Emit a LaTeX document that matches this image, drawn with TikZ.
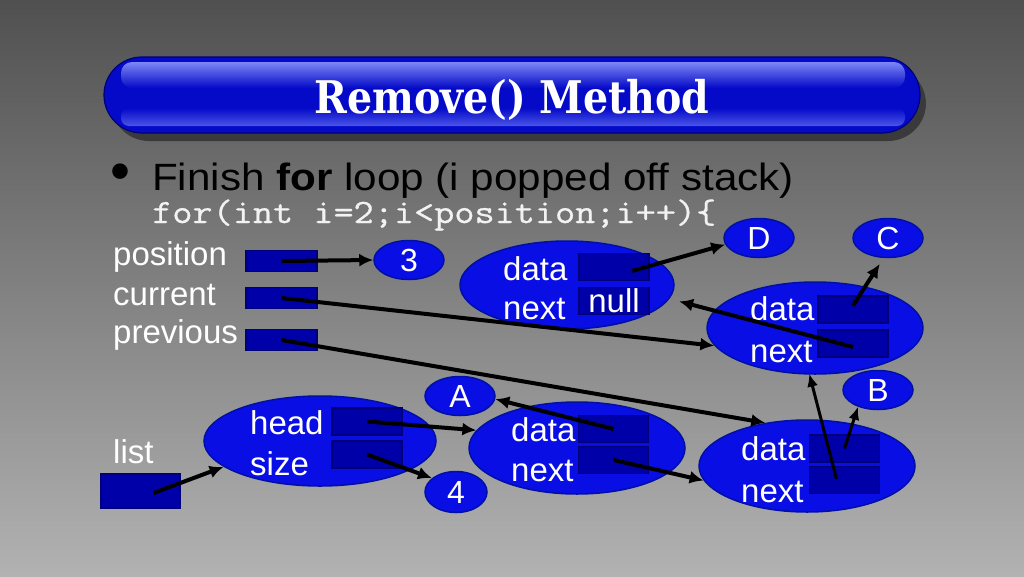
\documentclass[tikz,border=0pt]{standalone}
\usepackage{fontspec}
\setmainfont{Liberation Sans}
\newfontfamily\titlefont{DejaVu Serif}
\newfontfamily\codefont{Latin Modern Mono}[FakeBold=0.7]
\usetikzlibrary{shapes.geometric,arrows.meta}
\definecolor{ellblue}{RGB}{8,14,228}
\definecolor{elledge}{RGB}{0,16,165}
\definecolor{boxblue}{RGB}{0,0,168}
\definecolor{boxedge}{RGB}{0,0,120}
\definecolor{barblue}{RGB}{4,10,200}
\definecolor{baredge}{RGB}{0,0,120}
\definecolor{barlight}{RGB}{125,135,245}
\definecolor{barlow}{RGB}{75,85,232}
\definecolor{shadowgray}{RGB}{58,58,58}
\definecolor{bgtop}{RGB}{80,80,80}
\definecolor{bgbottom}{RGB}{178,178,178}
\definecolor{codegray}{RGB}{242,242,242}
\tikzset{
  bigell/.style={ellipse, draw=elledge, fill=ellblue, line width=1.5pt, minimum width=216pt, minimum height=92pt, inner sep=0pt},
  smallell/.style={ellipse, draw=elledge, fill=ellblue, line width=1.5pt, minimum width=70pt, minimum height=39pt, inner sep=0pt, text=white, font=\fontsize{32}{32}\selectfont},
  varbox/.style={rectangle, draw=boxedge, fill=boxblue, line width=1.2pt, minimum width=71pt, minimum height=21pt, inner sep=0pt},
  fieldbox/.style={rectangle, draw=boxedge, fill=boxblue, line width=1.2pt, minimum width=70pt, minimum height=27pt, inner sep=0pt},
  lbl/.style={text=white, inner sep=0pt, anchor=base west, font=\fontsize{33}{33}\selectfont},
  conn/.style={line width=4pt, -{Latex[length=14pt,width=13pt]}},
  thinconn/.style={line width=3pt, -{Latex[length=13pt,width=11pt]}}
}
\begin{document}
\begin{tikzpicture}[x=1pt,y=-1pt]
\useasboundingbox (0,0) rectangle (1024,576);
\shade[top color=bgtop, bottom color=bgbottom] (0,0) rectangle (1024,576);
% title bar
\fill[shadowgray, rounded corners=38pt] (111,66) rectangle (926,141);
\filldraw[fill=barblue, draw=baredge, line width=1.2pt, rounded corners=38pt] (104,57) rectangle (920,133);
\shade[top color=barlight, bottom color=barblue, rounded corners=11pt] (121,62) rectangle (905,88);
\shade[top color=barblue, bottom color=barlow, rounded corners=8pt] (121,108) rectangle (905,126);
\node[anchor=base, inner sep=0pt, text=white, font=\titlefont\bfseries\fontsize{45}{45}\selectfont] (title) at (512,113)
  {\resizebox{395pt}{\height}{Remove() Method}};
% bullet text
\node[anchor=base west, inner sep=0pt, font=\fontsize{38}{38}\selectfont] (bullet) at (110,190) {\scalebox{1.5}{\textbullet}};
\node[anchor=base west, inner sep=0pt, font=\fontsize{38}{38}\selectfont] (finish) at (152,190) {\scalebox{1.11}[1]{Finish \textbf{for} loop (i popped off stack)}};
\node[anchor=base west, inner sep=0pt, text=codegray, font=\codefont\fontsize{34}{34}\selectfont] (code) at (152,223) {\resizebox{564pt}{\height}{for(int i=2;i<position;i++)\{}};
% variable labels and boxes
\node[lbl] (lpos) at (113,265) {position};
\node[lbl] (lcur) at (113,305) {current};
\node[lbl] (lprev) at (113,343) {previous};
\node[lbl] (llist) at (113,463) {list};
\node[varbox] (posbox) at (281.5,261) {};
\node[varbox] (curbox) at (281.5,298) {};
\node[varbox] (prevbox) at (281.5,340) {};
\node[rectangle, draw=boxedge, fill=boxblue, line width=1.2pt, minimum width=79pt, minimum height=34pt, inner sep=0pt] (listbox) at (140.5,491) {};
% small value ellipses
\node[smallell] (three) at (409,260) {3};
\node[smallell] (D) at (759,238) {D};
\node[smallell] (C) at (888,238) {C};
\node[smallell] (B) at (878,390) {B};
\node[smallell] (A) at (460,396) {A};
\node[smallell, minimum width=62pt, minimum height=41pt] (four) at (456,492) {4};
% big ellipses
\node[bigell, minimum width=214pt, minimum height=88pt] (T) at (567,285) {};
\node[bigell] (R) at (815,328) {};
\node[bigell, minimum width=232pt, minimum height=90pt] (H) at (320,441) {};
\node[bigell] (M) at (577,448) {};
\node[bigell] (BR) at (807,466) {};
% fields
\node[lbl] (Tdl) at (503,280) {data};
\node[lbl] (Tnl) at (503,319) {next};
\node[fieldbox] (Tdata) at (614,267) {};
\node[fieldbox, text=white, font=\fontsize{33}{33}\selectfont] (Tnext) at (614,301) {\raisebox{-2pt}{null}};
\node[lbl] (Rdl) at (750,320) {data};
\node[lbl] (Rnl) at (750,362) {next};
\node[fieldbox] (Rdata) at (853,309.5) {};
\node[fieldbox] (Rnext) at (853,343.5) {};
\node[lbl] (Hhl) at (250,434) {head};
\node[lbl] (Hsl) at (250,475) {size};
\node[fieldbox] (Hhead) at (367,421.5) {};
\node[fieldbox] (Hsize) at (367,454.5) {};
\node[lbl] (Mdl) at (511,441) {data};
\node[lbl] (Mnl) at (511,481) {next};
\node[fieldbox] (Mdata) at (613.5,429) {};
\node[fieldbox] (Mnext) at (613.5,460) {};
\node[lbl] (BRdl) at (741,460) {data};
\node[lbl] (BRnl) at (741,502) {next};
\node[fieldbox] (BRdata) at (844.5,448.5) {};
\node[fieldbox] (BRnext) at (844.5,480) {};
% connectors
\draw[conn] (posbox.center) -- (three.180);
\draw[conn] (curbox.center) -- (R.190);
\draw[conn] (prevbox.center) -- (BR.134);
\draw[conn] ([shift={(18,4)}]Tdata.center) -- (D.191);
\draw[conn] ([shift={(0,3.5)}]Rnext.center) -- ([shift={(10,2)}]T.352);
\draw[conn] ([shift={(0,-4)}]Rdata.center) -- ([shift={(-1,6)}]C.250);
\draw[thinconn] ([shift={(-8,-1)}]BRnext.center) -- ([shift={(0,-1)}]R.263);
\draw[thinconn] (BRdata.center) -- (B.220);
\draw[conn] (Mdata.center) -- (A.355);
\draw[conn] (Mnext.center) -- (BR.188);
\draw[conn] (Hhead.center) -- (M.170);
\draw[conn] (Hsize.center) -- (four.150);
\draw[conn] ([shift={(13,2)}]listbox.center) -- (H.195);
\end{tikzpicture}
\end{document}
